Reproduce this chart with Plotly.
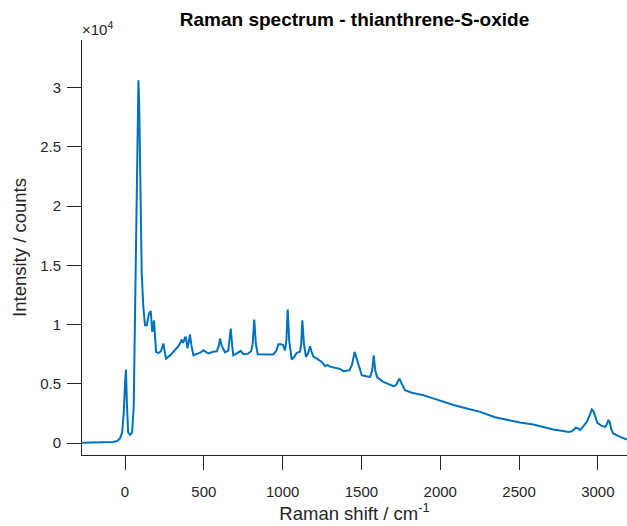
import plotly.graph_objects as go

# Raman spectrum of thianthrene-S-oxide, sampled at the readable features
shift_cm = [
    -273, -200, -150, -100, -76, -50, -32, -18, -8, 0, 6, 12, 20, 32, 45, 55, 62, 70, 78, 85,
    90, 95, 101, 106, 116, 127, 138, 152, 163, 173, 184, 197,
    212, 228, 243, 252, 260, 286, 317, 340, 360, 367, 374, 380,
    387, 396, 404, 412, 422, 434, 460, 480, 497, 510, 529, 560, 582, 595, 603,
    614, 635, 655, 671, 680, 687, 712, 734, 751, 780, 800, 810, 820, 830,
    842, 878, 941, 960, 973, 990, 1001, 1015, 1024, 1032, 1042, 1058,
    1075, 1089, 1110, 1118, 1125, 1135, 1148, 1162, 1174, 1184, 1195, 1220,
    1248, 1269, 1285, 1301, 1320, 1343, 1365, 1385, 1410, 1423, 1440,
    1450, 1457, 1466, 1480, 1502, 1530, 1555, 1568, 1578, 1588, 1600, 1639,
    1673, 1703, 1720, 1732, 1741, 1752, 1777, 1820, 1893, 1950, 2020, 2090, 2168,
    2253, 2347, 2430, 2506, 2591, 2650, 2718, 2780, 2813, 2835, 2850, 2862, 2874,
    2887, 2910, 2930, 2950, 2962, 2972, 2985, 2997, 3025, 3046, 3058, 3066, 3075,
    3085, 3098, 3120, 3141, 3185,
]
intensity = [
    40, 50, 60, 80, 100, 180, 400, 900, 2600, 5000, 6200, 3300, 900, 700, 900, 3000, 10000, 20000, 27500, 30600,
    28500, 25000, 19000, 14300, 11500, 9940, 9940, 10930, 11150, 9380, 10360, 7700,
    7600, 7750, 8400, 7600, 7130, 7400, 7890, 8200, 8740, 8450, 8600, 8900,
    8900, 8000, 8500, 9160, 8200, 7410, 7550, 7650, 7830, 7700, 7560, 7700, 7750, 8200, 8820,
    8200, 7650, 7800, 9660, 8200, 7410, 7600, 7780, 7500, 7550, 7750, 8400, 10420, 8400,
    7500, 7500, 7470, 7800, 8340, 8350, 8300, 7830, 8700, 11260, 8600, 7050,
    7300, 7610, 7700, 8400, 10360, 8400, 7270, 7600, 8170, 7700, 7300, 7100,
    6850, 6490, 6600, 6450, 6400, 6340, 6250, 6070, 6100, 6150, 6600,
    7300, 7700, 7300, 6600, 5730, 5650, 5590, 6100, 7410, 6100, 5550, 5170,
    5000, 4800, 4900, 5300, 5450, 5100, 4470, 4250, 4040, 3800, 3480, 3200, 2920,
    2640, 2190, 1950, 1740, 1570, 1380, 1150, 1030, 950, 1000, 1200, 1300, 1250,
    1100, 1450, 1800, 2400, 2840, 2700, 2100, 1710, 1450, 1370, 1600, 1950, 1800,
    1150, 820, 640, 530, 310,
]

# y axis is labelled in units of 10^4 counts
y_tick_vals = [0, 5000, 10000, 15000, 20000, 25000, 30000]
y_tick_text = ["0", "0.5", "1", "1.5", "2", "2.5", "3"]
x_tick_vals = [0, 500, 1000, 1500, 2000, 2500, 3000]

axis_col = "#262626"
font_family = "Liberation Sans, Arial, sans-serif"

fig = go.Figure(
    go.Scatter(
        x=shift_cm,
        y=intensity,
        mode="lines",
        line=dict(color="#0072BD", width=2),
        hoverinfo="skip",
    )
)

fig.update_layout(
    width=627,
    height=526,
    margin=dict(l=82, r=0, t=40, b=71),
    paper_bgcolor="white",
    plot_bgcolor="white",
    showlegend=False,
    font=dict(family=font_family, color=axis_col, size=15),
    title=dict(
        text="<b>Raman spectrum - thianthrene-S-oxide</b>",
        font=dict(size=19, color="#000000"),
        x=0.5,
        xref="paper",
        xanchor="center",
        y=1 - 19 / 526,
        yref="container",
        yanchor="middle",
    ),
)

fig.update_xaxes(
    range=[-273, 3185],
    tickvals=x_tick_vals,
    ticks="outside",
    ticklen=14,
    tickwidth=1,
    tickcolor=axis_col,
    showline=True,
    linecolor=axis_col,
    linewidth=1,
    showgrid=False,
    zeroline=False,
    ticklabelstandoff=9,
    tickfont=dict(size=15, color=axis_col),
    title=dict(text="Raman shift / cm<sup>-1</sup>", font=dict(size=18.5, color=axis_col), standoff=6),
)

fig.update_yaxes(
    range=[-1000, 34000],
    tickvals=y_tick_vals,
    ticktext=y_tick_text,
    ticks="outside",
    ticklen=14,
    tickwidth=1,
    tickcolor=axis_col,
    showline=True,
    linecolor=axis_col,
    linewidth=1,
    showgrid=False,
    zeroline=False,
    ticklabelstandoff=3,
    tickfont=dict(size=15, color=axis_col),
    title=dict(text="Intensity / counts", font=dict(size=18.5, color=axis_col), standoff=8),
)

# exponent marker for the y axis
fig.add_annotation(
    text="×10<sup>4</sup>",
    xref="paper",
    yref="paper",
    x=0,
    y=1,
    xanchor="left",
    yanchor="bottom",
    yshift=0,
    xshift=-2,
    showarrow=False,
    font=dict(size=15, color=axis_col, family=font_family),
)

fig.write_html("out.html")
